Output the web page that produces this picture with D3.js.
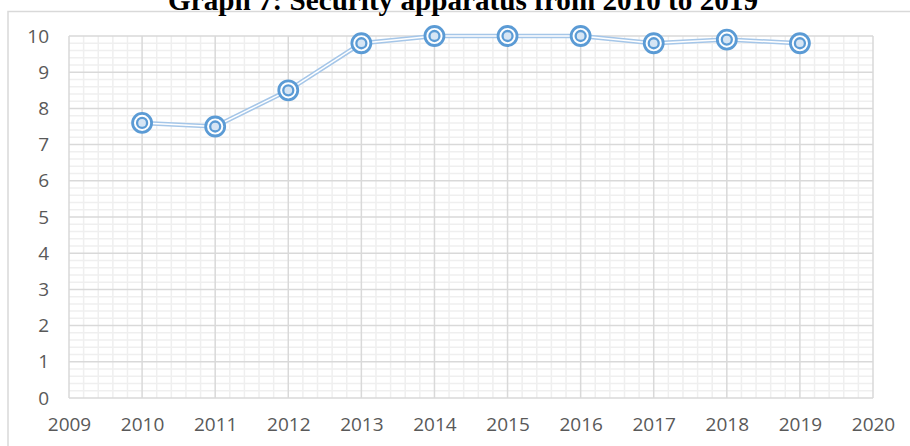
<!DOCTYPE html>
<html>
<head>
<meta charset="utf-8">
<script src="https://cdn.jsdelivr.net/npm/d3@7"></script>
<style>
  html, body { margin: 0; padding: 0; background: #fff; }
  svg { display: block; }
</style>
</head>
<body>
<svg id="chart" width="910" height="446"></svg>
<script>
const title = "Graph 7: Security apparatus from 2010 to 2019";
const years = [2010, 2011, 2012, 2013, 2014, 2015, 2016, 2017, 2018, 2019];
const values = [7.6, 7.5, 8.5, 9.8, 10, 10, 10, 9.8, 9.9, 9.8];
const xTickLabels = [2009, 2010, 2011, 2012, 2013, 2014, 2015, 2016, 2017, 2018, 2019, 2020];
const yTickLabels = [0, 1, 2, 3, 4, 5, 6, 7, 8, 9, 10];

const svg = d3.select("#chart");
const x = d3.scaleLinear().domain([2009, 2020]).range([69, 873]);
const y = d3.scaleLinear().domain([0, 10]).range([398, 36]);

// outer chart border (left + top)
svg.append("path")
  .attr("d", "M8,446 L8,11.5 L910,11.5")
  .attr("fill", "none").attr("stroke", "#d9d9d9").attr("stroke-width", 1.5);

// title (partly cut off at top, as in the reference)
svg.append("text")
  .attr("x", 463).attr("y", 10)
  .attr("text-anchor", "middle")
  .attr("font-family", "'Liberation Serif', 'Times New Roman', serif")
  .attr("font-weight", "bold")
  .attr("font-size", 29)
  .attr("fill", "#000")
  .attr("textLength", 590)
  .attr("lengthAdjust", "spacingAndGlyphs")
  .text(title);

const grid = svg.append("g");
// minor grid
const xMinor = d3.range(2009, 2020.001, 0.2).filter(v => Math.abs(v - Math.round(v)) > 1e-6);
const yMinor = d3.range(0, 10.001, 0.2).filter(v => Math.abs(v - Math.round(v)) > 1e-6);
grid.selectAll(".xm").data(xMinor).join("line")
  .attr("x1", d => x(d)).attr("x2", d => x(d))
  .attr("y1", y(0)).attr("y2", y(10))
  .attr("stroke", "#efefef").attr("stroke-width", 1.5);
grid.selectAll(".ym").data(yMinor).join("line")
  .attr("x1", x(2009)).attr("x2", x(2020))
  .attr("y1", d => y(d)).attr("y2", d => y(d))
  .attr("stroke", "#efefef").attr("stroke-width", 1.5);
// major grid
grid.selectAll(".xM").data(xTickLabels).join("line")
  .attr("x1", d => x(d)).attr("x2", d => x(d))
  .attr("y1", y(0)).attr("y2", y(10))
  .attr("stroke", "#d9d9d9").attr("stroke-width", 1.5);
grid.selectAll(".yM").data(yTickLabels).join("line")
  .attr("x1", x(2009)).attr("x2", x(2020))
  .attr("y1", d => y(d)).attr("y2", d => y(d))
  .attr("stroke", "#d9d9d9").attr("stroke-width", 1.5);

// axes labels
const font = "'Open Sans', 'Noto Sans', sans-serif";
const xAxis = svg.append("g")
  .attr("transform", `translate(0,${y(0)})`)
  .call(d3.axisBottom(x).tickValues(xTickLabels).tickFormat(d3.format("d")).tickSize(0).tickPadding(20));
const yAxis = svg.append("g")
  .attr("transform", `translate(${x(2009)},0)`)
  .call(d3.axisLeft(y).tickValues(yTickLabels).tickFormat(d3.format("d")).tickSize(0).tickPadding(20));
[xAxis, yAxis].forEach(a => {
  a.select(".domain").remove();
  a.selectAll("text")
    .attr("font-family", font)
    .attr("font-size", 19)
    .attr("fill", "#595959");
});

// double line
const line = d3.line().x((d, i) => x(years[i])).y(d => y(d));
svg.append("path").datum(values)
  .attr("d", line).attr("fill", "none")
  .attr("stroke", "#a5c6e8").attr("stroke-width", 4.5);
svg.append("path").datum(values)
  .attr("d", line).attr("fill", "none")
  .attr("stroke", "#ffffff").attr("stroke-width", 1.5);

// markers
const m = svg.append("g").selectAll("g").data(values).join("g")
  .attr("transform", (d, i) => `translate(${x(years[i])},${y(d)})`);
m.append("circle").attr("r", 9.5)
  .attr("fill", "#ffffff").attr("stroke", "#5b9bd5").attr("stroke-width", 2.8);
m.append("circle").attr("r", 5)
  .attr("fill", "#d6e5f4").attr("stroke", "#5b9bd5").attr("stroke-width", 2.3);
</script>
</body>
</html>
